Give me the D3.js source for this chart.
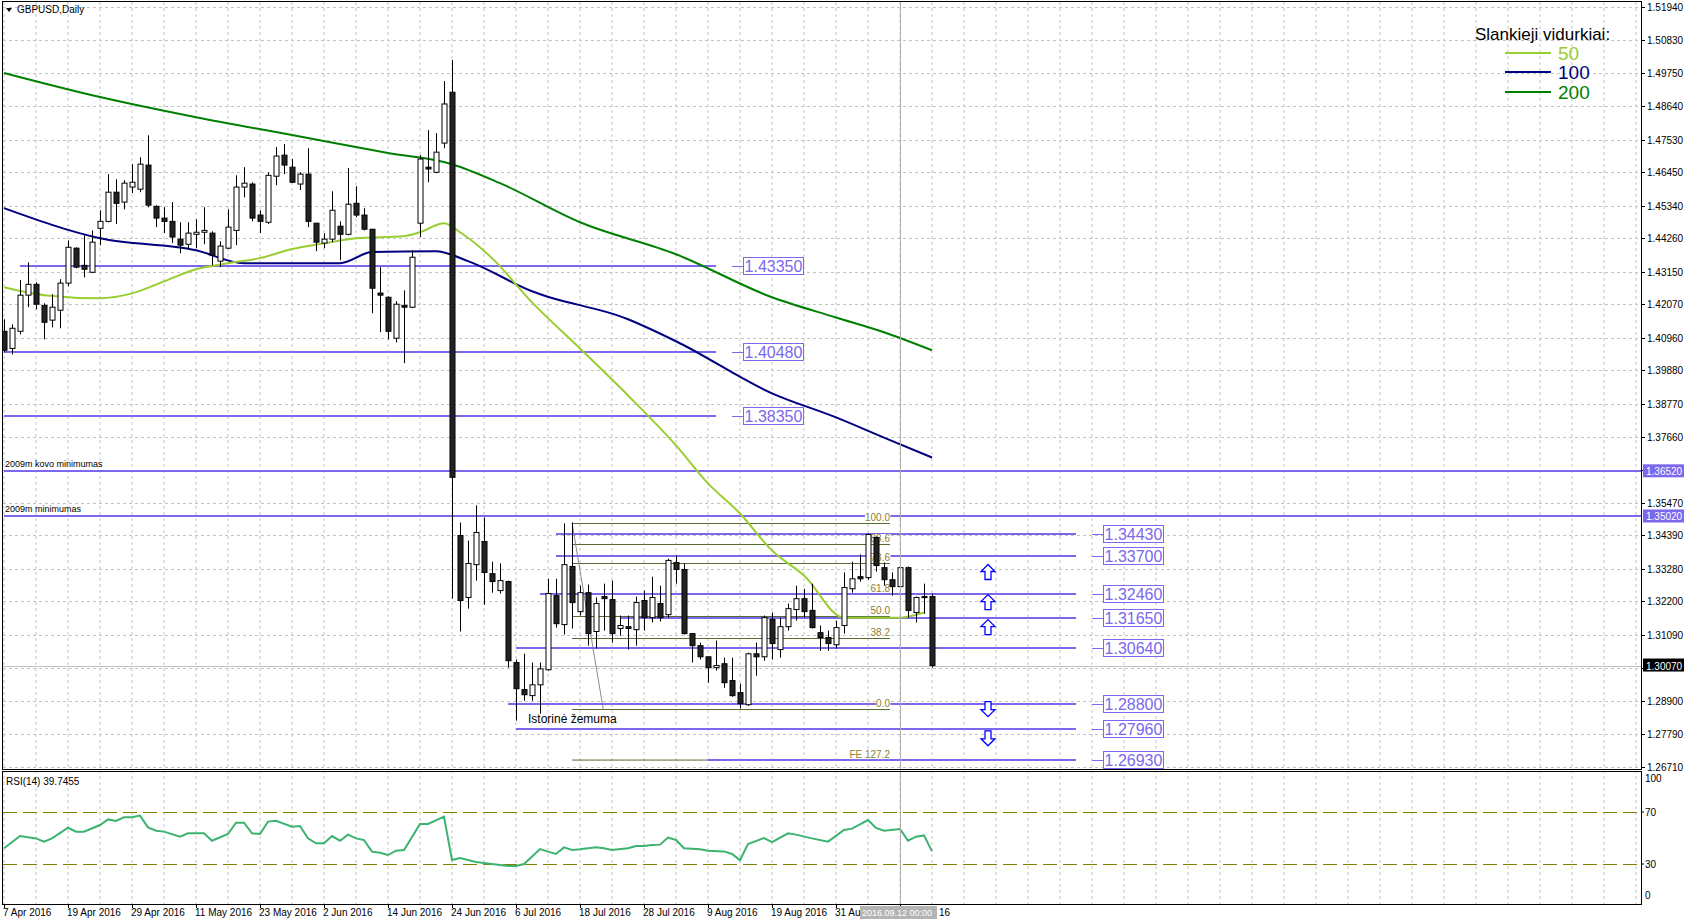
<!DOCTYPE html>
<html><head><meta charset="utf-8">
<script src="https://cdn.jsdelivr.net/npm/d3@7"></script>
<style>body{margin:0;background:#fff}svg{display:block;font-family:"Liberation Sans",Arial,sans-serif}</style>
</head><body><svg id="c" width="1684" height="923"></svg>
<script>
// ---------- DATA ----------
const ohlc = [
[1.4117,1.4157,1.4047,1.4054],[1.4060,1.4140,1.4040,1.4127],[1.4117,1.4287,1.4107,1.4237],[1.4237,1.4346,1.4197,1.4273],
[1.4273,1.4280,1.4190,1.4207],[1.4203,1.4210,1.4090,1.4147],[1.4154,1.4240,1.4130,1.4197],[1.4187,1.4290,1.4127,1.4277],
[1.4277,1.4419,1.4267,1.4396],[1.4393,1.4396,1.4326,1.4330],[1.4336,1.4436,1.4296,1.4323],[1.4313,1.4452,1.4310,1.4413],
[1.4459,1.4519,1.4403,1.4482],[1.4482,1.4639,1.4479,1.4579],[1.4579,1.4622,1.4473,1.4542],[1.4546,1.4619,1.4522,1.4609],
[1.4596,1.4672,1.4576,1.4612],[1.4589,1.4695,1.4579,1.4672],[1.4669,1.4768,1.4529,1.4536],[1.4532,1.4536,1.4463,1.4493],
[1.4493,1.4529,1.4443,1.4482],[1.4482,1.4546,1.4410,1.4430],[1.4423,1.4479,1.4376,1.4403],[1.4406,1.4479,1.4390,1.4443],
[1.4439,1.4489,1.4393,1.4446],[1.4446,1.4529,1.4406,1.4452],[1.4443,1.4449,1.4336,1.4370],[1.4350,1.4416,1.4330,1.4400],
[1.4393,1.4522,1.4390,1.4463],[1.4452,1.4635,1.4403,1.4596],[1.4596,1.4662,1.4562,1.4609],[1.4606,1.4612,1.4482,1.4493],
[1.4503,1.4519,1.4443,1.4482],[1.4479,1.4645,1.4473,1.4635],[1.4632,1.4729,1.4602,1.4699],[1.4702,1.4739,1.4639,1.4669],
[1.4662,1.4689,1.4609,1.4612],[1.4606,1.4645,1.4586,1.4639],[1.4639,1.4725,1.4463,1.4482],[1.4476,1.4476,1.4383,1.4413],
[1.4410,1.4443,1.4393,1.4423],[1.4423,1.4582,1.4413,1.4519],[1.4466,1.4482,1.4353,1.4439],[1.4439,1.4659,1.4436,1.4539],
[1.4542,1.4599,1.4496,1.4503],[1.4503,1.4526,1.4452,1.4456],[1.4456,1.4456,1.4177,1.4260],[1.4244,1.4330,1.4114,1.4237],
[1.4230,1.4233,1.4090,1.4117],[1.4094,1.4217,1.4080,1.4207],[1.4203,1.4253,1.4011,1.4197],[1.4197,1.4386,1.4194,1.4363],
[1.4476,1.4702,1.4430,1.4689],[1.4662,1.4785,1.4612,1.4656],[1.4645,1.4775,1.4642,1.4712],[1.4742,1.4948,1.4725,1.4872],
[1.4911,1.5018,1.3229,1.3632],[1.3439,1.3482,1.3120,1.3223],[1.3233,1.3422,1.3196,1.3346],[1.3342,1.3539,1.3289,1.3449],
[1.3419,1.3499,1.3209,1.3316],[1.3312,1.3352,1.3249,1.3286],[1.3256,1.3346,1.3246,1.3289],[1.3286,1.3289,1.3000,1.3023],
[1.3017,1.3027,1.2824,1.2930],[1.2927,1.3046,1.2890,1.2910],[1.2907,1.3017,1.2890,1.2943],[1.2943,1.3017,1.2847,1.2996],
[1.2993,1.3295,1.2990,1.3246],[1.3239,1.3295,1.3133,1.3146],[1.3143,1.3479,1.3110,1.3342],[1.3336,1.3482,1.3130,1.3216],
[1.3186,1.3272,1.3173,1.3249],[1.3249,1.3276,1.3073,1.3113],[1.3120,1.3233,1.3063,1.3213],[1.3236,1.3279,1.3123,1.3229],
[1.3226,1.3289,1.3083,1.3113],[1.3130,1.3173,1.3106,1.3140],[1.3136,1.3173,1.3060,1.3130],[1.3126,1.3236,1.3073,1.3216],
[1.3223,1.3256,1.3123,1.3166],[1.3166,1.3302,1.3150,1.3233],[1.3213,1.3272,1.3153,1.3166],[1.3176,1.3362,1.3166,1.3356],
[1.3349,1.3372,1.3279,1.3326],[1.3326,1.3346,1.3110,1.3113],[1.3113,1.3113,1.3017,1.3073],[1.3073,1.3083,1.3027,1.3036],
[1.3036,1.3036,1.2950,1.3000],[1.3000,1.3090,1.2990,1.3007],[1.3013,1.3033,1.2933,1.2950],[1.2957,1.3033,1.2903,1.2907],
[1.2917,1.2947,1.2864,1.2880],[1.2877,1.3050,1.2873,1.3046],[1.3046,1.3083,1.2973,1.3036],[1.3036,1.3173,1.3023,1.3166],
[1.3160,1.3183,1.3027,1.3080],[1.3060,1.3166,1.3033,1.3136],[1.3136,1.3213,1.3123,1.3196],[1.3193,1.3272,1.3156,1.3229],
[1.3229,1.3262,1.3166,1.3186],[1.3190,1.3279,1.3130,1.3133],[1.3116,1.3140,1.3056,1.3100],[1.3100,1.3123,1.3056,1.3080],
[1.3076,1.3156,1.3063,1.3133],[1.3140,1.3316,1.3113,1.3266],[1.3262,1.3352,1.3249,1.3295],[1.3302,1.3376,1.3286,1.3295],
[1.3299,1.3446,1.3292,1.3442],[1.3432,1.3436,1.3319,1.3339],[1.3332,1.3349,1.3272,1.3292],[1.3292,1.3316,1.3239,1.3269],
[1.3269,1.3342,1.3236,1.3332],[1.3332,1.3336,1.3166,1.3190],[1.3183,1.3236,1.3150,1.3233],[1.3233,1.3279,1.3179,1.3236],
[1.3236,1.3246,1.3000,1.3007]];

const ma50Idx = [0,5,12,16,20,24,28,32,36,40,44,50,52,55,57,61,66,72,78,84,88,92,96,100,105,112,115];
const ma50 = [1.4263,1.4237,1.4227,1.4243,1.4283,1.4323,1.4343,1.4360,1.4390,1.4409,1.4426,1.4433,1.4446,1.4476,1.4446,1.4360,1.4213,1.4060,1.3904,1.3738,1.3612,1.3512,1.3389,1.3306,1.3166,1.3166,1.3183];
const ma100Idx = [0,12,24,30,42,46,54,58,66,78,84,96,104,110,116];
const ma100 = [1.4526,1.4426,1.4386,1.4343,1.4343,1.4380,1.4383,1.4350,1.4250,1.4157,1.4084,1.3911,1.3831,1.3764,1.3698];
const ma200Idx = [0,12,24,36,48,56,62,72,84,96,104,110,116];
const ma200 = [1.4975,1.4895,1.4828,1.4769,1.4709,1.4672,1.4609,1.4479,1.4373,1.4230,1.4163,1.4114,1.4054];

const rsiIdx = [0,2,4,5,6,8,9,10,12,13,14,15,16,17,18,19,20,22,23,25,26,28,29,30,31,32,33,34,36,37,38,39,40,41,42,43,44,45,46,47,48,49,50,52,53,55,56,57,59,60,61,63,64,65,67,68,69,70,71,72,74,75,76,78,79,80,81,82,83,84,85,87,88,90,91,92,93,95,96,98,99,101,103,105,106,108,109,110,112,113,114,115,116];
const rsiVal = [42.1,51.5,49.7,47.2,49.7,57.9,54.9,54.9,60.0,64.3,63.1,65.9,65.9,67.2,58.2,55.6,54.9,51.0,53.6,53.6,47.9,53.1,61.8,61.8,53.6,53.1,62.6,63.3,58.7,59.2,49.7,45.9,45.9,51.5,47.9,52.6,49.7,48.4,39.5,38.7,36.9,40.2,40.8,60.8,60.8,66.4,33.1,34.6,31.5,30.8,30.0,28.5,28.5,30.0,41.5,39.5,37.7,42.8,40.8,41.3,42.8,42.1,40.8,42.1,43.8,43.8,44.6,44.9,50.3,48.5,42.1,41.3,40.2,39.7,37.7,33.0,45.4,50.0,46.9,53.6,52.6,49.7,47.2,56.2,57.2,63.8,57.7,55.6,56.9,48.0,51.0,52.0,39.7455];

const priceTicks = [1.51940,1.50830,1.49750,1.48640,1.47530,1.46450,1.45340,1.44260,1.43150,1.42070,1.40960,1.39880,1.38770,1.37660,1.36560,1.35470,1.34390,1.33280,1.32200,1.31090,1.29990,1.28900,1.27790,1.26710];
// visible parts of date labels (last two are partly hidden by the crosshair box in the reference)
const dateLabels = ["7 Apr 2016","19 Apr 2016","29 Apr 2016","11 May 2016","23 May 2016","2 Jun 2016","14 Jun 2016","24 Jun 2016","6 Jul 2016","18 Jul 2016","28 Jul 2016","9 Aug 2016","19 Aug 2016","31 Au"];
const dateTail = "16";
const rsiTicks = [100,70,30,0];

const levelPrice = [1.4335,1.4048,1.3835,1.3652,1.3502,1.3443,1.3370,1.3246,1.3165,1.3064,1.2880,1.2796,1.2693];
const levelStart = [2,0,0,0,0,69,69,67,77,64,63,64,88];
const levelEnd   = [89,89,89,null,null,134,134,134,134,134,134,134,134];
const levelBox   = ["mid","mid","mid","axis","axis","right","right","right","right","right","right","right","right"];
const fibLevels = [100.0,88.6,78.6,61.8,50.0,38.2,0.0];
const fibLow = 1.2863, fibHigh = 1.3481;
const upArrows = [1.3316,1.3216,1.3133];
const downArrows = [1.2864,1.2767];
const lastPrice = 1.3007;

// ---------- DRAW ----------
const svg = d3.select("#c");
const L = 3, R = 1641, T = 2, MB = 769, RT = 772, RB = 904;
const x = d3.scaleLinear().domain([0,1]).range([4,12]);
const y = d3.scaleLinear().domain([1.2671,1.5194]).range([766.7,7]);
const ry = d3.scaleLinear().domain([0,100]).range([903,773]);
const PURPLE = "#7b68ee";

svg.append("defs").append("clipPath").attr("id","mainclip").append("rect").attr("x",L).attr("y",T).attr("width",R-L).attr("height",MB-T);
svg.append("defs").append("clipPath").attr("id","rsiclip").append("rect").attr("x",L).attr("y",RT).attr("width",R-L).attr("height",RB-RT);
const main = svg.append("g").attr("clip-path","url(#mainclip)");
const rsiG = svg.append("g").attr("clip-path","url(#rsiclip)");

const vIdx = d3.range(0, 206, 4);
[main, rsiG].forEach(g => {
  g.selectAll(null).data(vIdx).join("line").attr("x1",d=>x(d)).attr("x2",d=>x(d)).attr("y1",T).attr("y2",RB)
   .attr("stroke","#c4c4c4").attr("stroke-dasharray","3,3");
});
main.selectAll(null).data(priceTicks).join("line").attr("x1",L).attr("x2",R).attr("y1",d=>Math.round(y(d))+0.5).attr("y2",d=>Math.round(y(d))+0.5)
  .attr("stroke","#c4c4c4").attr("stroke-dasharray","3,3");

main.append("line").attr("x1",L).attr("x2",R).attr("y1",Math.round(y(lastPrice))+0.5).attr("y2",Math.round(y(lastPrice))+0.5).attr("stroke","#c0c0c0");
svg.append("line").attr("x1",x(112)+0.5).attr("x2",x(112)+0.5).attr("y1",T).attr("y2",RB).attr("stroke","#b0b0b0");

const fibY = f => y(fibLow + (fibHigh-fibLow)*f/100);
main.selectAll(null).data(fibLevels).join("line").attr("x1",x(71)).attr("x2",890).attr("y1",d=>Math.round(fibY(d))+0.5).attr("y2",d=>Math.round(fibY(d))+0.5)
  .attr("stroke","#556b2f").attr("stroke-width",1);
main.append("line").attr("x1",x(71)).attr("x2",708).attr("y1",y(1.2693)).attr("y2",y(1.2693)).attr("stroke","#556b2f").attr("stroke-width",1);
main.append("line").attr("x1",x(71)).attr("y1",fibY(100)).attr("x2",x(74.9)).attr("y2",fibY(0)).attr("stroke","#8a8a8a").attr("stroke-width",1);

levelPrice.forEach((p,i)=>{
  const yy = Math.round(y(p));
  const x2 = levelEnd[i]===null ? R : x(levelEnd[i]);
  main.append("line").attr("x1",x(levelStart[i])).attr("x2",x2).attr("y1",yy).attr("y2",yy).attr("stroke",PURPLE).attr("stroke-width",2);
  if (levelBox[i]==="mid" || levelBox[i]==="right") {
    const bx = levelBox[i]==="mid" ? 743 : 1103;
    main.append("line").attr("x1",bx-11).attr("x2",bx).attr("y1",yy+0.5).attr("y2",yy+0.5).attr("stroke",PURPLE);
    main.append("rect").attr("x",bx+0.5).attr("y",yy-8.5).attr("width",60).attr("height",17).attr("fill","#fff").attr("stroke",PURPLE);
    main.append("text").attr("x",bx+30.5).attr("y",yy+6).attr("text-anchor","middle").attr("font-size",16).attr("fill",PURPLE).text(p.toFixed(5));
  }
});
main.append("text").attr("x",5).attr("y",y(1.3652)-4).attr("font-size",9).text("2009m kovo minimumas");
main.append("text").attr("x",5).attr("y",y(1.3502)-4).attr("font-size",9).text("2009m minimumas");
main.append("text").attr("x",528).attr("y",y(1.2796)-6).attr("font-size",12).text("Istorinė žemuma");

const fibLab = fibLevels.map(f=>({t:f.toFixed(1), yy:fibY(f)})).concat([{t:"FE 127.2", yy:y(1.2693)}]);
fibLab.forEach(d=>{
  const t = main.append("text").attr("x",890).attr("y",d.yy-2).attr("text-anchor","end").attr("font-size",10)
    .attr("fill","#8c8032").text(d.t);
  const bb = t.node().getBBox();
  main.insert("rect", () => t.node()).attr("x",bb.x).attr("y",bb.y+1).attr("width",bb.width).attr("height",bb.height-2).attr("fill","#fff");
});

const mkLine = (idx, vals, col) => {
  main.append("path").datum(idx.map((d,i)=>[d,vals[i]]))
    .attr("d", d3.line().x(d=>x(d[0])).y(d=>y(d[1])).curve(d3.curveMonotoneX))
    .attr("fill","none").attr("stroke",col).attr("stroke-width",2);
};
mkLine(ma200Idx, ma200, "#008000");
mkLine(ma100Idx, ma100, "#000080");
mkLine(ma50Idx, ma50, "#9acd32");

const cg = main.append("g");
ohlc.forEach((d,i)=>{
  const cx = Math.round(x(i))+0.5;
  const [o,h,l,c] = d;
  cg.append("line").attr("x1",cx).attr("x2",cx).attr("y1",y(h)).attr("y2",y(l)).attr("stroke","#000");
  const top = y(Math.max(o,c)), bot = y(Math.min(o,c));
  cg.append("rect").attr("x",cx-2.5).attr("y",top).attr("width",5).attr("height",Math.max(1,bot-top))
    .attr("fill", c>=o ? "#fff" : "#222").attr("stroke","#000").attr("stroke-width",1);
});

const arrowPath = (up) => up ? "M0,-8 L7,-1 L3,-1 L3,7 L-3,7 L-3,-1 L-7,-1 Z" : "M0,8 L7,1 L3,1 L3,-7 L-3,-7 L-3,1 L-7,1 Z";
upArrows.forEach(p=> main.append("path").attr("d",arrowPath(true)).attr("transform",`translate(${x(123)},${y(p)})`).attr("fill","#fff").attr("stroke","#0000ff").attr("stroke-width",1.3));
downArrows.forEach(p=> main.append("path").attr("d",arrowPath(false)).attr("transform",`translate(${x(123)},${y(p)})`).attr("fill","#fff").attr("stroke","#0000ff").attr("stroke-width",1.3));

main.append("path").attr("d","M6,8 L12,8 L9,12 Z").attr("fill","#000");
main.append("text").attr("x",17).attr("y",13).attr("font-size",10).text("GBPUSD,Daily");

main.append("text").attr("x",1475).attr("y",40).attr("font-size",17).text("Slankieji vidurkiai:");
[["50","#9acd32",53],["100","#000080",72],["200","#008000",92]].forEach(d=>{
  main.append("line").attr("x1",1505).attr("x2",1551).attr("y1",d[2]).attr("y2",d[2]).attr("stroke",d[1]).attr("stroke-width",2);
  main.append("text").attr("x",1558).attr("y",d[2]+7).attr("font-size",19).attr("fill",d[1]).text(d[0]);
});

[70,30].forEach(v=> rsiG.append("line").attr("x1",L).attr("x2",R).attr("y1",Math.round(ry(v))+0.5).attr("y2",Math.round(ry(v))+0.5)
  .attr("stroke","#808000").attr("stroke-dasharray","14,6"));
rsiG.append("path").datum(rsiIdx.map((d,i)=>[d,rsiVal[i]])).attr("d", d3.line().x(d=>x(d[0])).y(d=>ry(d[1])))
  .attr("fill","none").attr("stroke","#3cb371").attr("stroke-width",2);
rsiG.append("text").attr("x",6).attr("y",785).attr("font-size",10).text("RSI(14) 39.7455");

svg.append("rect").attr("x",L-0.5).attr("y",T-0.5).attr("width",R-L+1).attr("height",MB-T+1).attr("fill","none").attr("stroke","#000");
svg.append("rect").attr("x",L-0.5).attr("y",RT-0.5).attr("width",R-L+1).attr("height",RB-RT+1).attr("fill","none").attr("stroke","#000");

const ax = svg.append("g").attr("font-size",10);
ax.selectAll(null).data(priceTicks).join("line").attr("x1",R).attr("x2",R+4).attr("y1",d=>Math.round(y(d))+0.5).attr("y2",d=>Math.round(y(d))+0.5).attr("stroke","#000");
ax.selectAll(null).data(priceTicks.filter(d=>d!==1.36560&&d!==1.29990)).join("text").attr("x",R+6).attr("y",d=>y(d)+4).text(d=>d.toFixed(5));
const hl = (p, bg) => {
  ax.append("rect").attr("x",R+2).attr("y",y(p)-7).attr("width",41).attr("height",13).attr("fill",bg);
  ax.append("text").attr("x",R+5).attr("y",y(p)+4).attr("fill","#fff").text(p.toFixed(5));
};
hl(1.3652, PURPLE); hl(1.3502, PURPLE); hl(lastPrice, "#000");
ax.selectAll(null).data(rsiTicks).join("text").attr("x",R+4).attr("y",d=> d===100 ? 782 : d===0 ? 899 : ry(d)+4).text(d=>d);
ax.selectAll(null).data(rsiTicks.slice(1,3)).join("line").attr("x1",R).attr("x2",R+3).attr("y1",d=>ry(d)).attr("y2",d=>ry(d)).attr("stroke","#000");

const dg = svg.append("g").attr("font-size",10);
dg.selectAll(null).data(dateLabels).join("text").attr("x",(d,i)=>x(i*8)-1).attr("y",916).text(d=>d);
dg.selectAll(null).data(d3.range(15)).join("line").attr("x1",d=>x(d*8)+0.5).attr("x2",d=>x(d*8)+0.5).attr("y1",RB).attr("y2",RB+4).attr("stroke","#000");
dg.append("rect").attr("x",860).attr("y",906).attr("width",77).attr("height",13).attr("fill","#b4b4b4");
dg.append("text").attr("x",862).attr("y",916).attr("fill","#fff").attr("font-size",9).text("2016.09.12 00:00");
dg.append("text").attr("x",939).attr("y",916).text(dateTail);
</script></body></html>
